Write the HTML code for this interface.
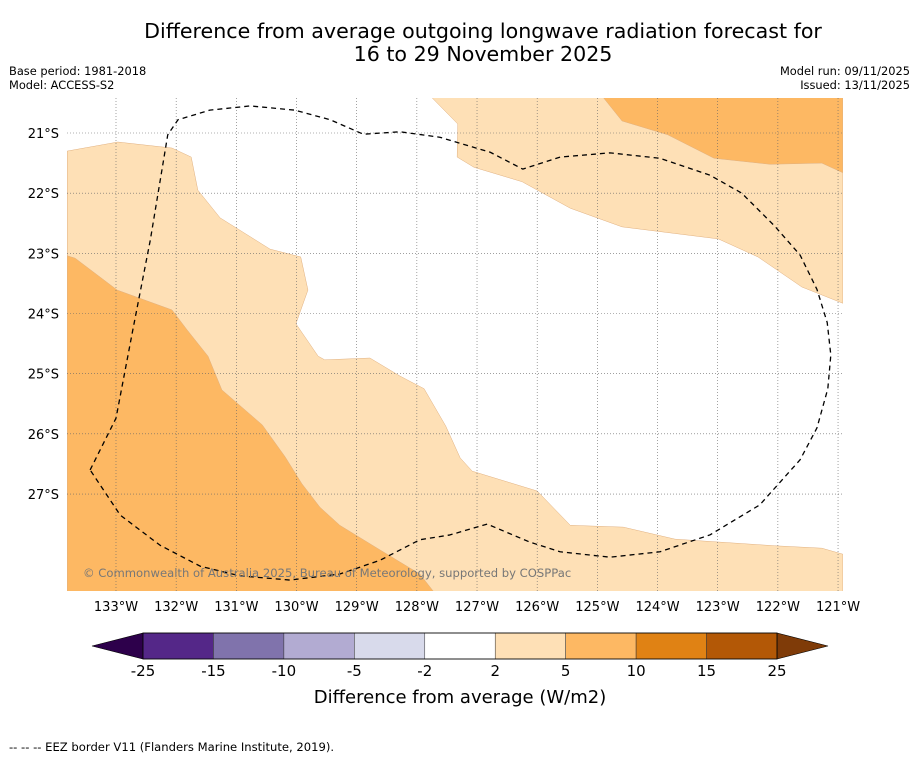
<!DOCTYPE html>
<html><head><meta charset="utf-8"><style>
body{margin:0;background:#fff;font-family:"DejaVu Sans","Liberation Sans",sans-serif;}
svg{display:block}
</style></head><body>
<svg id="s" width="919" height="758" xmlns="http://www.w3.org/2000/svg">
<text x="483" y="38" font-size="20.6" text-anchor="middle">Difference from average outgoing longwave radiation forecast for</text>
<text x="483" y="61" font-size="20.6" text-anchor="middle">16 to 29 November 2025</text>
<text x="9" y="75" font-size="11.4">Base period: 1981-2018</text>
<text x="9" y="89" font-size="11.4">Model: ACCESS-S2</text>
<text x="910" y="75" font-size="11.4" text-anchor="end">Model run: 09/11/2025</text>
<text x="910" y="89" font-size="11.4" text-anchor="end">Issued: 13/11/2025</text>
<defs><clipPath id="mc"><rect x="67" y="98" width="776" height="493"/></clipPath></defs>
<g id="map" clip-path="url(#mc)"></g>
<g id="grid"></g>
<g id="eez" clip-path="url(#mc)"></g>
<g id="axes"></g>
<text x="83" y="577" font-size="11.6" fill="#777">© Commonwealth of Australia 2025, Bureau of Meteorology, supported by COSPPac</text>
<g id="cbar"></g>
<text x="460" y="703" font-size="18" text-anchor="middle">Difference from average (W/m2)</text>
<text x="9" y="751" font-size="11.6">--  --  -- EEZ border V11 (Flanders Marine Institute, 2019).</text>
</svg>
<script>
const lonTicks=[-133,-132,-131,-130,-129,-128,-127,-126,-125,-124,-123,-122,-121];
const latTicks=[-21,-22,-23,-24,-25,-26,-27];
const cbBounds=[-25,-15,-10,-5,-2,2,5,10,15,25];
const cbColors=['#542788','#8073ac','#b2abd2','#d8daeb','#ffffff','#fee0b6','#fdb863','#e08214','#b35806'];
const lightA=[[-133.81,-21.30],[-132.97,-21.15],[-132.07,-21.25],[-131.75,-21.40],[-131.64,-21.95],[-131.27,-22.41],[-130.44,-22.93],[-129.93,-23.06],[-129.81,-23.61],[-130.01,-24.17],[-129.64,-24.71],[-129.53,-24.77],[-128.78,-24.74],[-128.28,-25.04],[-127.88,-25.25],[-127.52,-25.87],[-127.28,-26.40],[-127.08,-26.62],[-126.00,-26.95],[-125.45,-27.52],[-124.57,-27.55],[-123.71,-27.75],[-122.05,-27.86],[-121.27,-27.90],[-120.92,-28.00],[-120.92,-28.7],[-133.81,-28.7]];
const lightB=[[-127.86,-20.3],[-127.32,-20.85],[-127.33,-21.40],[-127.05,-21.57],[-126.25,-21.81],[-125.45,-22.25],[-124.59,-22.56],[-122.99,-22.76],[-122.33,-23.06],[-121.60,-23.56],[-120.92,-23.83],[-120.92,-20.3]];
const medA=[[-133.81,-23.04],[-133.68,-23.08],[-132.98,-23.61],[-132.07,-23.94],[-131.82,-24.27],[-131.47,-24.71],[-131.24,-25.27],[-130.57,-25.85],[-130.19,-26.38],[-129.91,-26.83],[-129.61,-27.22],[-129.28,-27.52],[-128.61,-27.93],[-127.95,-28.33],[-127.66,-28.7],[-133.81,-28.7]];
const medB=[[-124.99,-20.3],[-124.59,-20.80],[-123.83,-21.03],[-123.06,-21.42],[-122.13,-21.52],[-121.27,-21.50],[-120.92,-21.66],[-120.92,-20.3]];
const eezLine=[[-133.43,-26.60],[-133.00,-25.74],[-132.72,-24.27],[-132.43,-22.78],[-132.14,-21.03],[-131.97,-20.78],[-131.44,-20.62],[-130.77,-20.55],[-130.03,-20.62],[-129.44,-20.78],[-128.89,-21.02],[-128.28,-20.98],[-127.62,-21.07],[-126.78,-21.32],[-126.24,-21.60],[-125.62,-21.40],[-124.79,-21.33],[-123.96,-21.42],[-123.13,-21.70],[-122.60,-22.00],[-122.05,-22.55],[-121.63,-23.03],[-121.35,-23.60],[-121.18,-24.15],[-121.12,-24.69],[-121.17,-25.25],[-121.35,-25.90],[-121.63,-26.43],[-122.30,-27.18],[-123.13,-27.68],[-123.96,-27.96],[-124.79,-28.05],[-125.62,-27.96],[-126.12,-27.80],[-126.83,-27.50],[-127.45,-27.68],[-127.95,-27.76],[-128.61,-28.10],[-129.28,-28.33],[-130.11,-28.43],[-130.94,-28.36],[-131.60,-28.20],[-132.27,-27.85],[-132.93,-27.35],[-133.43,-26.60]];
const NS='http://www.w3.org/2000/svg';
const X=lon=>116+(lon+133)*60.17;
const Y=lat=>133+(-21-lat)*60.17;
function mk(t,a,p){const e=document.createElementNS(NS,t);for(const k in a)e.setAttribute(k,a[k]);p.appendChild(e);return e;}
const map=document.getElementById('map');
function poly(pts,fill,name){const e=mk('polygon',{points:pts.map(p=>X(p[0])+','+Y(p[1])).join(' '),fill:fill,stroke:'#e0b080','stroke-width':'0.5'},map);

}
poly(lightA,'#fee0b6','region-2-5-west');
poly(lightB,'#fee0b6','region-2-5-northeast');
poly(medA,'#fdb863','region-5-10-southwest');
poly(medB,'#fdb863','region-5-10-northeast');
const grid=document.getElementById('grid');
lonTicks.forEach(l=>{const g=mk('line',{x1:X(l),x2:X(l),y1:98,y2:591,stroke:'#666','stroke-width':'0.6','stroke-dasharray':'1,2'},grid);

});
latTicks.forEach(l=>{const g=mk('line',{x1:67,x2:843,y1:Y(l),y2:Y(l),stroke:'#666','stroke-width':'0.6','stroke-dasharray':'1,2'},grid);

});
const eez=document.getElementById('eez');
const ep=mk('polyline',{points:eezLine.map(p=>X(p[0])+','+Y(p[1])).join(' '),fill:'none',stroke:'#000','stroke-width':'1.3','stroke-dasharray':'5,4','stroke-linejoin':'round'},eez);


const axes=document.getElementById('axes');
lonTicks.forEach(l=>{const t=mk('text',{x:X(l),y:611,'font-size':13,'text-anchor':'middle'},axes);t.textContent=(-l)+'°W';

});
latTicks.forEach(l=>{const t=mk('text',{x:59,y:Y(l)+5,'font-size':13,'text-anchor':'end'},axes);t.textContent=(-l)+'°S';

});
const cb=document.getElementById('cbar');
const cx0=143,cx1=777,cy0=633,cy1=659,n=cbColors.length,w=(cx1-cx0)/n;
const lt=mk('polygon',{points:`92,646 ${cx0},${cy0} ${cx0},${cy1}`,fill:'#2d004b',stroke:'#000','stroke-width':'0.6'},cb);


const rt=mk('polygon',{points:`828,646 ${cx1},${cy0} ${cx1},${cy1}`,fill:'#7f3b08',stroke:'#000','stroke-width':'0.6'},cb);


cbColors.forEach((c,i)=>{const r=mk('rect',{x:cx0+i*w,y:cy0,width:w,height:cy1-cy0,fill:c,stroke:'#333','stroke-width':'0.5'},cb);

});
mk('rect',{x:cx0,y:cy0,width:cx1-cx0,height:cy1-cy0,fill:'none',stroke:'#000','stroke-width':'0.8'},cb);
cbBounds.forEach((b,i)=>{const t=mk('text',{x:cx0+i*w,y:676,'font-size':15,'text-anchor':'middle'},cb);t.textContent=b;

});
</script>
</body></html>
